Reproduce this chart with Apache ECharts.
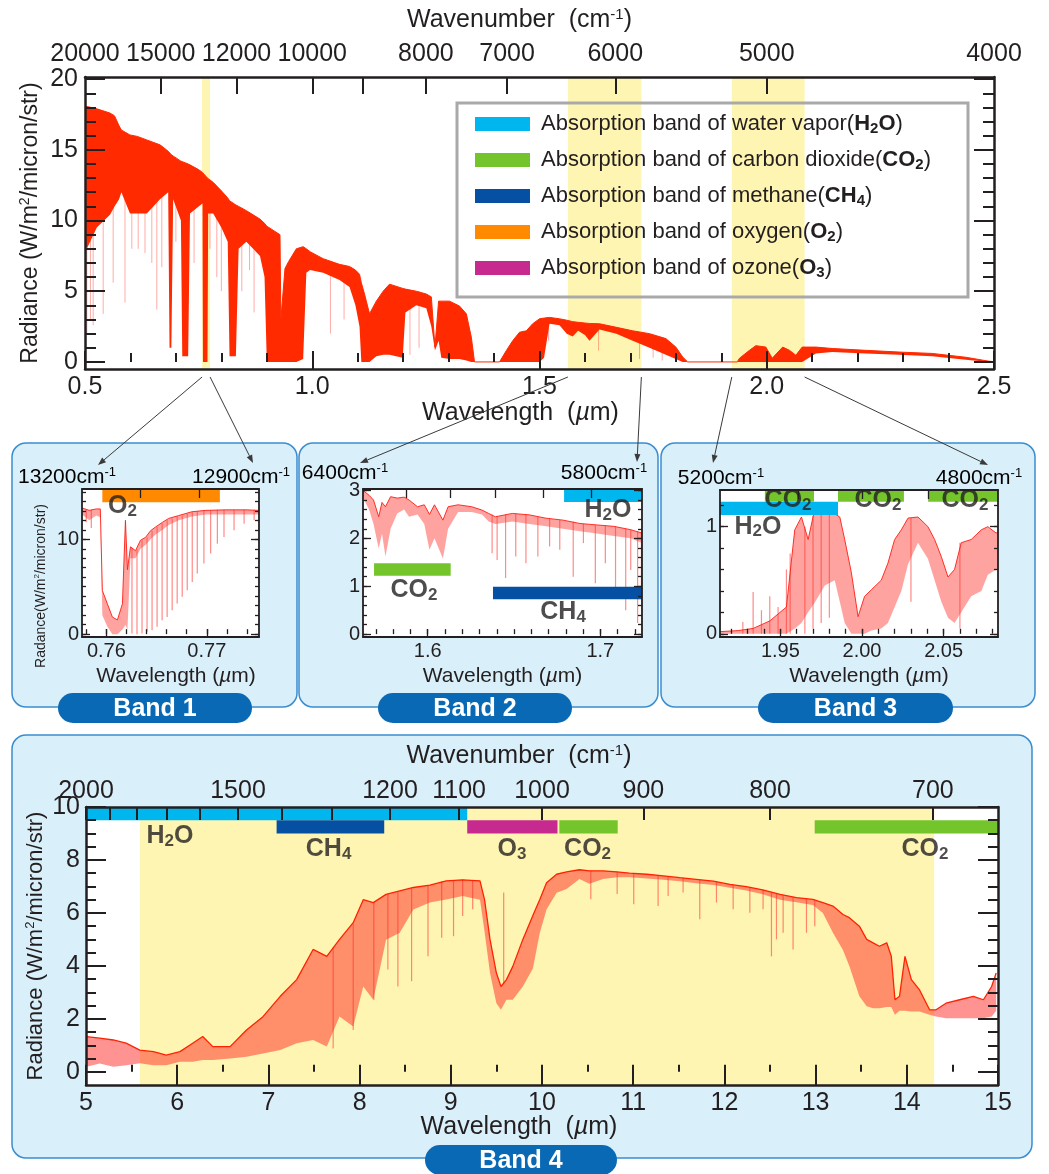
<!DOCTYPE html>
<html>
<head>
<meta charset="utf-8">
<title>Radiance spectrum</title>
<script src="https://cdn.jsdelivr.net/npm/echarts@6.0.0/dist/echarts.min.js"></script>
<style>
  html, body { margin: 0; padding: 0; background: #fff; }
  #chart { width: 1049px; height: 1174px; }
</style>
</head>
<body>
<div id="chart"></div>
<script>
// ---------- values ----------
// overview spectrum 0.5 - 2.5 um: upper edge and lower edge of the dense red band
const mainWl = [0.500,0.504,0.526,0.555,0.565,0.575,0.580,0.599,0.615,0.636,
  0.665,0.683,0.686,0.690,0.694,0.711,0.714,0.727,0.731,0.750,
  0.7585,0.7595,0.7695,0.771,0.782,0.800,0.814,0.818,0.832,0.838,
  0.855,0.870,0.885,0.895,0.900,0.929,0.931,0.940,0.948,0.965,
  0.980,0.987,0.995,1.024,1.060,1.082,1.095,1.104,1.108,1.115,
  1.126,1.141,1.156,1.170,1.199,1.205,1.229,1.251,1.262,1.270,
  1.278,1.284,1.302,1.324,1.339,1.350,1.357,1.412,1.427,1.441,
  1.456,1.471,1.485,1.500,1.510,1.522,1.544,1.560,1.573,1.585,
  1.600,1.610,1.632,1.669,1.705,1.742,1.778,1.800,1.815,1.826,
  1.935,1.940,1.962,1.976,1.998,2.012,2.035,2.050,2.064,2.078,
  2.108,2.144,2.218,2.291,2.364,2.438,2.489,2.500];
const mainTop = [18.1,18.0,17.9,17.6,17.4,16.7,16.4,16.05,15.95,15.7,
  15.35,14.9,14.8,14.65,14.55,14.2,14.15,14.0,13.95,13.6,
  13.4,13.35,13.0,12.95,12.7,12.1,11.6,11.4,11.1,11.0,
  10.7,10.4,10.1,9.8,9.6,9.0,3.0,6.6,7.1,8.0,
  8.15,8.0,7.8,7.3,6.9,6.75,6.5,6.2,5.6,4.8,
  3.4,4.3,5.0,5.5,5.2,5.15,5.0,4.8,4.6,1.05,
  4.3,4.3,4.3,3.95,3.4,1.75,0,0,0.8,1.5,
  2.1,2.2,2.7,3.05,3.1,3.15,3.05,2.95,2.85,2.8,
  2.75,2.72,2.7,2.45,2.2,2.0,1.65,1.05,0.35,0,
  0,0.26,0.82,1.15,1.05,0.26,1.05,0.82,0.47,1.05,
  1.05,0.95,0.82,0.7,0.6,0.33,0.05,0.02];
const mainLow = [8.5,8.0,9.5,10.4,11.0,11.5,12.0,10.5,10.5,10.5,
  11.5,12.0,1.0,1.0,11.5,10.0,0.4,0.4,10.5,11.0,
  11.2,0,0,10.5,10.5,9.5,8.5,0.4,0.4,8.0,
  8.5,8.0,7.5,6.0,0,0,0,0,0,0,
  0.2,6.3,6.5,6.3,5.8,5.3,4.0,2.5,0,0,
  0,0.4,0.5,0.5,0.3,3.5,4.0,3.8,2.5,0.8,
  1.5,0.3,0.2,0.2,0.1,0,0,0,0,0,
  0,0,0,0,0.3,2.7,2.6,2.0,1.8,2.2,
  1.9,1.5,2.3,2.0,1.5,1.0,0.5,0.2,0,0,
  0,0,0,0,0,0,0,0,0,0,
  0.6,0.7,0.6,0.5,0.4,0.15,0,0];
// single deep lines below the dense band
const mainLineWl = [0.504,0.512,0.518,0.540,0.562,0.588,0.603,0.617,0.632,0.647,0.658,0.669,0.700,0.740,0.775,0.790,0.800,0.845,0.862,0.872,1.040,1.070,1.215,1.235,1.520,1.630,1.720,1.750,1.770,2.200,2.300];
const mainLineTop = [18.0,17.95,17.9,17.7,17.5,16.2,16.0,15.9,15.7,15.5,15.4,15.3,14.45,13.8,12.85,12.4,12.1,10.9,10.6,10.3,7.1,6.8,5.1,5.0,3.15,2.7,2.1,1.9,1.7,0.85,0.7];
const mainLineLow = [2.0,3.0,2.6,3.4,5.6,4.2,8.0,8.0,7.7,7.0,3.7,6.7,8.5,7.0,8.0,6.0,5.0,5.0,6.5,3.5,2.0,3.0,0.5,1.0,1.5,0.8,0.2,0.3,0.1,0.1,0.1];

// Band 1 (O2 A band)
const b1Wl = [0.75758,0.7583,0.7590,0.7594,0.7596,0.7601,0.7606,0.7611,0.7616,0.7619,0.7621,0.7624,0.7629,0.7634,0.7639,0.7644,0.7649,0.7656,0.7662,0.7672,0.7685,0.7699,0.7719,0.7739,0.7752];
const b1Top = [13.3,13.05,13.2,13.2,4.6,3.2,1.8,1.5,3.2,12.0,6.8,9.2,8.8,9.9,10.2,10.9,11.3,11.8,12.2,12.5,12.9,13.05,13.1,13.1,13.05];
const b1Low = [12.6,12.0,12.5,12.3,2.0,0.8,0,0,0.5,1.0,0.5,8.0,8.0,9.0,9.4,10.0,10.5,11.0,11.5,12.0,12.4,12.6,12.6,12.6,12.6];
const b1LineWl = [0.7580,0.7585,0.76255,0.76305,0.76355,0.76405,0.76455,0.76505,0.76555,0.76605,0.76655,0.76705,0.76755,0.76805,0.76855,0.76905,0.76971,0.77038,0.77105,0.77171,0.77271,0.77371,0.77471];
const b1LineTop = [13.1,13.1,9.1,8.9,9.9,10.2,10.9,11.3,11.7,12.0,12.2,12.4,12.5,12.7,12.85,12.95,13.05,13.05,13.1,13.1,13.1,13.1,13.1];
const b1LineLow = [11.8,11.2,0.07,0,0.07,0.25,0.42,0.77,1.47,1.82,2.53,3.23,3.93,4.63,5.51,6.39,7.44,8.49,9.54,10.25,10.95,11.65,12.0];

// Band 2
const b2Wl = [1.5625,1.5660,1.5686,1.5716,1.5735,1.5755,1.5785,1.5823,1.5863,1.5892,1.5941,1.5980,1.6010,1.6039,1.6088,1.6118,1.6176,1.6255,1.6314,1.6353,1.6392,1.6490,1.6588,1.6686,1.6784,1.6882,1.6980,1.7078,1.7176,1.7241];
const b2Top = [3.0,2.9,2.8,2.45,2.75,2.66,2.87,2.84,2.86,2.80,2.66,2.70,2.50,2.70,2.38,2.66,2.70,2.66,2.59,2.52,2.45,2.52,2.49,2.42,2.38,2.31,2.28,2.25,2.18,2.11];
const b2Low = [2.85,2.6,2.3,1.79,2.1,1.62,2.2,2.52,2.6,2.45,2.5,2.3,1.76,2.0,1.58,2.2,2.55,2.55,2.5,2.35,2.3,2.35,2.3,2.25,2.2,2.15,2.1,2.05,2.0,1.9];
const b2LineWl = [1.6373,1.6402,1.6451,1.6510,1.6569,1.6638,1.6706,1.6765,1.6843,1.6902,1.6971,1.7029,1.7088,1.7147,1.7176,1.7216,1.7238];
const b2LineTop = [2.50,2.45,2.50,2.52,2.50,2.45,2.42,2.38,2.35,2.30,2.28,2.27,2.25,2.20,2.18,2.15,2.12];
const b2LineLow = [1.69,1.55,1.17,1.62,1.48,1.62,1.83,1.76,1.20,1.90,1.06,1.48,0.85,0.50,1.34,0.23,0.78];

// Band 3
const b3Wl = [1.9130,1.9140,1.9242,1.9333,1.9435,1.9537,1.9588,1.9629,1.9670,1.9710,1.9772,1.9833,1.9864,1.9894,1.9935,1.9976,2.0016,2.0057,2.0118,2.0159,2.0200,2.0241,2.0282,2.0343,2.0404,2.0445,2.0486,2.0527,2.0567,2.0608,2.0669,2.0731,2.0771,2.0822,2.0833];
const b3Top = [0.02,0.02,0.03,0.05,0.12,0.25,0.97,1.09,0.88,1.16,1.16,1.12,1.09,0.88,0.57,0.16,0.35,0.41,0.50,0.66,0.88,0.97,1.08,1.09,1.00,0.88,0.72,0.53,0.60,0.85,0.88,0.97,1.00,0.94,0.95];
const b3Low = [0,0,0,0,0,0,0.05,0.10,0.20,0.29,0.45,0.50,0.30,0.10,0,0,0,0.03,0.05,0.10,0.25,0.40,0.65,0.85,0.70,0.50,0.30,0.15,0.10,0.20,0.35,0.40,0.55,0.60,0.60];
const b3LineWl = [1.9270,1.9333,1.9384,1.9435,1.9486,1.9537,1.9560,1.9650,1.9700,1.9750,1.9800,2.0300,2.0600];
const b3LineTop = [0.11,0.39,0.22,0.35,0.25,0.60,0.75,1.00,1.10,1.12,1.15,1.08,0.85];
const b3LineLow = [0,0,0,0,0,0,0,0,0.05,0.10,0.15,0.30,0.05];

// Band 4 (thermal infrared)
const b4Wl = [5.005,5.15,5.30,5.44,5.59,5.74,5.88,6.03,6.17,6.28,
  6.39,6.58,6.76,6.94,7.13,7.31,7.49,7.64,7.78,7.93,
  8.04,8.15,8.29,8.44,8.59,8.77,8.95,9.13,9.32,9.37,
  9.43,9.50,9.55,9.61,9.68,9.79,9.90,9.976,10.05,10.16,
  10.27,10.41,10.52,10.67,10.82,10.96,11.15,11.33,11.51,11.69,
  11.88,12.06,12.24,12.42,12.61,12.79,12.97,13.08,13.19,13.30,
  13.37,13.48,13.56,13.63,13.70,13.78,13.83,13.87,13.92,13.98,
  14.05,14.14,14.25,14.32,14.43,14.58,14.73,14.84,14.93,14.98];
const b4Top = [1.33,1.27,1.20,1.08,0.82,0.76,0.63,0.76,1.08,1.33,
  0.95,0.95,1.58,2.08,2.85,3.48,4.62,4.36,5.00,5.63,
  6.50,6.39,6.70,6.83,6.96,7.05,7.21,7.25,7.21,6.50,
  5.00,3.73,3.22,3.48,3.98,5.00,5.90,6.51,7.14,7.46,
  7.55,7.63,7.59,7.59,7.55,7.50,7.46,7.40,7.33,7.27,
  7.20,7.08,6.99,6.87,6.70,6.58,6.51,6.39,6.26,5.94,
  5.82,5.50,5.00,4.87,4.74,4.87,4.36,2.72,2.85,4.36,
  3.48,3.09,2.34,2.34,2.59,2.72,2.85,2.72,3.22,3.73];
const b4Low = [0.19,0.31,0.19,0.25,0.32,0.25,0.25,0.38,0.38,0.44,
  0.44,0.50,0.57,0.69,0.82,1.08,1.20,0.95,2.09,1.71,
  3.22,2.72,4.99,5.25,6.13,6.39,6.51,6.64,6.50,5.30,
  3.73,2.59,2.34,2.72,2.72,3.22,3.90,5.25,6.13,6.76,
  6.90,7.28,7.10,7.28,7.35,7.35,7.30,7.25,7.20,7.12,
  7.05,6.95,6.85,6.70,6.50,6.40,6.30,6.00,5.25,4.60,
  3.99,2.85,2.47,2.40,2.40,2.45,2.45,2.15,2.30,2.30,
  2.28,2.28,2.15,2.09,2.02,2.02,2.02,2.02,2.09,2.30];
const b4LineWl = [7.71,7.93,8.156,8.31,8.42,8.57,8.75,8.90,9.03,9.13,9.24,9.58,10.535,10.824,11.006,11.273,11.383,11.547,11.73,11.913,12.096,12.279,12.424,12.516,12.571,12.644,12.753,12.9,12.991];
const b4LineTop = [4.7,5.6,6.4,6.7,6.8,6.95,7.05,7.2,7.22,7.25,7.23,6.77,7.6,7.55,7.5,7.42,7.38,7.32,7.26,7.19,7.07,6.97,6.87,6.78,6.72,6.68,6.6,6.54,6.5];
const b4LineLow = [0.88,1.58,2.72,3.86,3.22,3.42,4.36,5.06,5.12,5.88,6.14,3.3,6.52,6.71,6.33,6.26,6.64,6.77,5.76,6.39,6.14,6.01,6.14,4.36,5.0,5.25,4.62,5.25,5.5];

// zoomed bands, wavenumber limits (cm-1), and the band-4 window (um)
const zoomBands = [[13200, 12900], [6400, 5800], [5200, 4800]];
const band4Window = [5.59, 14.3];

// absorption bars: gas, start and end wavelength (um)
const band1Gas = ['O2'], band1From = [0.7596], band1To = [0.7713];
const band2Gas = ['H2O', 'CO2', 'CH4'], band2From = [1.679, 1.5689, 1.6378], band2To = [1.7241, 1.6133, 1.7241];
const band3Gas = ['H2O', 'CO2', 'CO2', 'CO2'], band3From = [1.913, 1.9405, 1.9853, 2.0405], band3To = [1.9853, 1.9706, 2.0257, 2.0833];
const band4Gas = ['H2O', 'CH4', 'O3', 'CO2', 'CO2'], band4From = [5.0, 7.09, 9.18, 10.19, 12.99], band4To = [9.18, 8.27, 10.17, 10.83, 15.0];
const legendGases = ['H2O', 'CO2', 'CH4', 'O2', 'O3'];

// tick labels
const mainWlLabels = [0.5, 1.0, 1.5, 2.0, 2.5];
const mainRadLabels = [0, 5, 10, 15, 20];
const mainWnLabels = [20000, 15000, 12000, 10000, 8000, 7000, 6000, 5000, 4000];
const mainWnTicks = [15000, 12000, 10000, 9000, 8000, 7000, 6000, 5000];
const b1WlLabels = [0.76, 0.77], b1RadLabels = [0, 10], b1WnTicks = [13100, 13000];
const b2WlLabels = [1.6, 1.7], b2RadLabels = [0, 1, 2, 3], b2WnTicks = [6300, 6200, 6100, 6000, 5900];
const b3WlLabels = [1.95, 2.00, 2.05], b3RadLabels = [0, 1], b3WnTicks = [5100, 5000, 4900];
const b4WlLabels = [5, 6, 7, 8, 9, 10, 11, 12, 13, 14, 15];
const b4RadLabels = [0, 2, 4, 6, 8, 10];
const b4WnLabels = [2000, 1500, 1200, 1100, 1000, 900, 800, 700];
const b4WnTicks = [2000, 1900, 1800, 1700, 1600, 1500, 1400, 1300, 1200, 1100, 1000, 900, 800, 700];

// ---------- styling ----------
const SANS = "'Liberation Sans', Arial, Helvetica, sans-serif";
const INK = '#231f20';
const YELLOW = '#fff5b2';
const GAS_COLOR = { H2O: '#00b6ee', CO2: '#73c52b', CH4: '#0550a3', O2: '#ff8a00', O3: '#c62a8f' };
const GAS_NAME = { H2O: 'water vapor', CO2: 'carbon dioxide', CH4: 'methane', O2: 'oxygen', O3: 'ozone' };

function range(a, b, step) {
  const out = [];
  for (let v = a; v <= b + step * 1e-6; v += step) out.push(Math.round(v * 1e6) / 1e6);
  return out;
}
function richSet(size, fam) {
  return {
    t: { fontSize: size, fontFamily: fam, color: INK, lineHeight: size + 2 },
    i: { fontSize: size, fontFamily: fam, fontStyle: 'italic', color: INK, lineHeight: size + 2 },
    sup: { fontSize: Math.round(size * 0.6), fontFamily: fam, color: INK, verticalAlign: 'top', lineHeight: Math.round(size * 0.5) },
    b: { fontSize: size, fontFamily: SANS, fontWeight: 'bold', color: INK, lineHeight: size + 2 },
    bs: { fontSize: Math.round(size * 0.68), fontFamily: SANS, fontWeight: 'bold', color: INK, verticalAlign: 'bottom', lineHeight: Math.round(size * 0.42) }
  };
}
// 'H2O' -> bold letters with subscript digits
function formula(g) {
  return g.replace(/([A-Z][a-z]?)|(\d)/g, (m, el, d) => el ? '{b|' + el + '}' : '{bs|' + d + '}');
}

const grids = [], xAxes = [], yAxes = [], series = [];

function addPanel(c) {
  const gi = grids.length;
  grids.push({ left: c.left, top: c.top, width: c.width, height: c.height, show: true, backgroundColor: '#fff', borderWidth: 0 });
  const tick = { color: INK, width: c.tw };
  const onLine = { show: true, onZero: false, lineStyle: { color: INK, width: c.lw } };
  const label = { fontSize: c.fs, fontFamily: SANS, color: INK };
  const base = () => ({ gridIndex: gi, type: 'value', z: 6, splitLine: { show: false }, nameMoveOverlap: false });
  const xi = xAxes.length, yi = yAxes.length;
  const nameRich = richSet(c.nameFs, SANS);

  xAxes.push(Object.assign(base(), {
    min: c.xMin, max: c.xMax, position: 'bottom', axisLine: onLine,
    axisTick: { inside: true, length: c.xMaj, lineStyle: tick, customValues: c.xLabels },
    axisLabel: Object.assign({ customValues: c.xLabels, formatter: c.xFmt, margin: c.xMargin }, label),
    name: c.xName, nameLocation: 'middle', nameGap: c.xNameGap,
    nameTextStyle: { rich: nameRich, padding: c.xNamePad || 0 }
  }));
  xAxes.push(Object.assign(base(), {
    min: c.xMin, max: c.xMax, position: 'bottom', axisLine: { show: false },
    axisTick: { inside: true, length: c.xMinLen, lineStyle: tick, customValues: c.xMinor },
    axisLabel: { show: false }
  }));
  const wnPos = c.wnTicks.map(w => 10000 / w);
  xAxes.push(Object.assign(base(), {
    min: c.xMin, max: c.xMax, position: 'top', axisLine: onLine,
    axisTick: { inside: true, length: c.topLen, lineStyle: tick, customValues: wnPos },
    axisLabel: c.wnLabels ? Object.assign({
      customValues: c.wnLabels.map(w => 10000 / w),
      formatter: v => String(Math.round(10000 / v)), margin: c.topMargin
    }, label) : { show: false },
    name: c.topName || '', nameLocation: 'middle', nameGap: c.topNameGap,
    nameTextStyle: { rich: nameRich, padding: c.topNamePad || 0 }
  }));

  yAxes.push(Object.assign(base(), {
    min: c.yMin, max: c.yMax, position: 'left', axisLine: onLine,
    axisTick: { inside: true, length: c.yMaj, lineStyle: tick, customValues: c.yLabels },
    axisLabel: Object.assign({ customValues: c.yLabels, margin: c.yMargin }, label),
    name: c.yName || '', nameLocation: 'middle', nameGap: c.yNameGap, nameRotate: 90,
    nameTextStyle: { rich: c.yNameRich || richSet(c.yNameFs || c.nameFs, SANS), padding: c.yNamePad || 0 }
  }));
  yAxes.push(Object.assign(base(), {
    min: c.yMin, max: c.yMax, position: 'left', axisLine: { show: false },
    axisTick: { inside: true, length: c.yMinLen, lineStyle: tick, customValues: c.yMinor },
    axisLabel: { show: false }
  }));
  yAxes.push(Object.assign(base(), {
    min: c.yMin, max: c.yMax, position: 'right', axisLine: onLine,
    axisTick: { inside: true, length: c.yMaj, lineStyle: tick, customValues: c.yLabels },
    axisLabel: { show: false }
  }));
  yAxes.push(Object.assign(base(), {
    min: c.yMin, max: c.yMax, position: 'right', axisLine: { show: false },
    axisTick: { inside: true, length: c.yMinLen, lineStyle: tick, customValues: c.yMinor },
    axisLabel: { show: false }
  }));
  return { gi: gi, xi: xi, yi: yi };
}

function windowArea(p, ranges) {
  series.push({
    type: 'line', name: 'window', xAxisIndex: p.xi, yAxisIndex: p.yi, silent: true, z: 1,
    symbol: 'none', lineStyle: { width: 0 }, data: [[ranges[0][0], 0]],
    markArea: { silent: true, itemStyle: { color: YELLOW }, data: ranges.map(r => [{ xAxis: r[0] }, { xAxis: r[1] }]) }
  });
}

function spectrum(p, wl, top, low, fill, edge, edgeWidth) {
  series.push({
    type: 'custom', name: 'spectrum', xAxisIndex: p.xi, yAxisIndex: p.yi, silent: true, z: 3, clip: true,
    encode: { x: 0, y: [1, 2] },
    data: wl.map((w, i) => [w, top[i], low[i]]),
    renderItem: (params, api) => {
      if (params.dataIndex !== 0) return null;
      const pts = wl.map((w, i) => api.coord([w, top[i]]));
      for (let i = wl.length - 1; i >= 0; i--) pts.push(api.coord([wl[i], low[i]]));
      return { type: 'polygon', shape: { points: pts }, style: { fill: fill } };
    }
  });
  if (edge) {
    series.push({
      type: 'line', name: 'spectrum-edge', xAxisIndex: p.xi, yAxisIndex: p.yi, silent: true, z: 3,
      symbol: 'none', clip: true, lineStyle: { color: edge, width: edgeWidth },
      data: wl.map((w, i) => [w, top[i]])
    });
  }
}

function absorptionLines(p, wl, top, low, color, width) {
  series.push({
    type: 'custom', name: 'lines', xAxisIndex: p.xi, yAxisIndex: p.yi, silent: true, z: 3, clip: true,
    encode: { x: 0, y: [1, 2] },
    data: wl.map((w, i) => [w, top[i], low[i]]),
    renderItem: (params, api) => {
      const a = api.coord([api.value(0), api.value(1)]);
      const b = api.coord([api.value(0), api.value(2)]);
      return { type: 'line', shape: { x1: a[0], y1: a[1], x2: b[0], y2: b[1] }, style: { stroke: color, lineWidth: width } };
    }
  });
}

function gasBars(p, gases, from, to, lanes) {
  const groups = {};
  gases.forEach((g, i) => { (groups[g] = groups[g] || []).push([from[i], to[i], lanes[g][0], lanes[g][1]]); });
  Object.keys(groups).forEach(g => {
    series.push({
      type: 'custom', name: g, xAxisIndex: p.xi, yAxisIndex: p.yi, silent: true, z: 4,
      itemStyle: { color: GAS_COLOR[g] },
      encode: { x: [0, 1], y: [2, 3] },
      data: groups[g],
      renderItem: (params, api) => {
        const a = api.coord([api.value(0), api.value(3)]);
        const b = api.coord([api.value(1), api.value(2)]);
        return { type: 'rect', shape: { x: a[0], y: a[1], width: b[0] - a[0], height: b[1] - a[1] }, style: { fill: GAS_COLOR[g] } };
      }
    });
  });
}

function gasLabels(p, labels) {
  series.push({
    type: 'scatter', name: 'gas-labels', xAxisIndex: p.xi, yAxisIndex: p.yi, silent: true, z: 5,
    symbolSize: 1, itemStyle: { color: 'rgba(0,0,0,0)' },
    data: labels.map(l => ({ name: l.gas, value: l.at })),
    label: { show: true, position: 'inside', formatter: q => formula(q.name), rich: richSet(25, SANS) }
  });
}

// ---------- panels ----------
const italicUm = '{t|Wavelength  (}{i|µ}{t|m)}';
const pMain = addPanel({
  left: 85, top: 77, width: 909, height: 292,
  xMin: 0.5, xMax: 2.5, yMin: -0.5, yMax: 20.15,
  xLabels: mainWlLabels, xFmt: v => v.toFixed(1), xMinor: range(0.5, 2.5, 0.1),
  yLabels: mainRadLabels, yMinor: range(0, 20, 1),
  wnTicks: mainWnTicks, wnLabels: mainWnLabels,
  lw: 2.5, tw: 2, fs: 25, nameFs: 25,
  xMaj: 18, xMinLen: 9, yMaj: 20, yMinLen: 11, topLen: 17,
  xMargin: 6, yMargin: 7, topMargin: 10,
  xName: italicUm, xNameGap: 31, xNamePad: [0, 38, 0, 0],
  topName: '{t|Wavenumber  (cm}{sup|-1}{t|)}', topNameGap: 43, topNamePad: [0, 40, 0, 0],
  yName: '{t|Radiance (W/m}{sup|2}{t|/micron/str)}', yNameGap: 42, yNameFs: 23
});
const insetStyle = {
  lw: 1.8, tw: 1.3, fs: 20, nameFs: 21,
  xMaj: 8, xMinLen: 5, yMaj: 8, yMinLen: 4, topLen: 9,
  xMargin: 4, yMargin: 3, xNameGap: 28, xName: '{t|Wavelength (}{i|µ}{t|m)}'
};
const pB1 = addPanel(Object.assign({}, insetStyle, {
  left: 82, top: 489, width: 177, height: 148,
  xMin: 10000 / 13200, xMax: 10000 / 12900, yMin: -0.3, yMax: 15.3,
  xLabels: b1WlLabels, xFmt: v => v.toFixed(2), xMinor: range(0.758, 0.774, 0.002),
  yLabels: b1RadLabels, yMinor: range(0, 15, 1), wnTicks: b1WnTicks,
  xNamePad: [0, 0, 0, 11],
  yName: '{t|Radance(W/m}{sup|2}{t|/micron/str)}', yNameGap: 33, yNameRich: richSet(14, SANS),
  yNamePad: [0, 46, 0, 0]
}));
const pB2 = addPanel(Object.assign({}, insetStyle, {
  left: 363, top: 489, width: 279, height: 148,
  xMin: 10000 / 6400, xMax: 10000 / 5800, yMin: -0.06, yMax: 3.03,
  xLabels: b2WlLabels, xFmt: v => v.toFixed(1), xMinor: range(1.57, 1.72, 0.01),
  yLabels: b2RadLabels, yMinor: range(0, 3, 0.2), wnTicks: b2WnTicks
}));
const pB3 = addPanel(Object.assign({}, insetStyle, {
  left: 720, top: 490, width: 278, height: 147,
  xMin: 1.913, xMax: 10000 / 4800, yMin: -0.03, yMax: 1.342,
  xLabels: b3WlLabels, xFmt: v => v.toFixed(2), xMinor: range(1.92, 2.08, 0.01),
  yLabels: b3RadLabels, yMinor: range(0, 1.2, 0.2), wnTicks: b3WnTicks,
  xNamePad: [0, 0, 0, 20]
}));
const pB4 = addPanel({
  left: 86, top: 807, width: 912, height: 278,
  xMin: 5, xMax: 15, yMin: -0.5, yMax: 10,
  xLabels: b4WlLabels, xFmt: v => String(v), xMinor: range(5, 15, 0.5),
  yLabels: b4RadLabels, yMinor: range(0, 10, 0.5),
  wnTicks: b4WnTicks, wnLabels: b4WnLabels,
  lw: 2.5, tw: 2, fs: 25, nameFs: 25,
  xMaj: 14, xMinLen: 7, yMaj: 20, yMinLen: 10, topLen: 13,
  xMargin: 6, yMargin: 6, topMargin: 3,
  xName: italicUm, xNameGap: 29, xNamePad: [0, 46, 0, 0],
  topName: '{t|Wavenumber  (cm}{sup|-1}{t|)}', topNameGap: 37, topNamePad: [0, 46, 0, 0],
  yName: '{t|Radiance (W/m}{sup|2}{t|/micron/str)}', yNameGap: 38, yNameFs: 22
});

// ---------- series ----------
windowArea(pMain, zoomBands.map(b => [10000 / b[0], 10000 / b[1]]));
absorptionLines(pMain, mainLineWl, mainLineTop, mainLineLow, 'rgba(255,70,60,0.45)', 1);
spectrum(pMain, mainWl, mainTop, mainLow, '#ff2a00', '#ff2a00', 1);

const insetFill = 'rgba(255,50,45,0.45)', insetLine = 'rgba(255,60,55,0.6)', insetEdge = 'rgba(255,30,20,0.9)';
absorptionLines(pB1, b1LineWl, b1LineTop, b1LineLow, insetLine, 1.2);
spectrum(pB1, b1Wl, b1Top, b1Low, insetFill, insetEdge, 1);
absorptionLines(pB2, b2LineWl, b2LineTop, b2LineLow, insetLine, 1.2);
spectrum(pB2, b2Wl, b2Top, b2Low, insetFill, insetEdge, 1);
absorptionLines(pB3, b3LineWl, b3LineTop, b3LineLow, insetLine, 1.2);
spectrum(pB3, b3Wl, b3Top, b3Low, insetFill, insetEdge, 1);

windowArea(pB4, [band4Window]);
absorptionLines(pB4, b4LineWl, b4LineTop, b4LineLow, insetLine, 1.2);
spectrum(pB4, b4Wl, b4Top, b4Low, 'rgba(255,40,35,0.5)', '#ff2200', 1.3);

// bar lanes (radiance extent of each coloured bar) and label anchors
gasBars(pB1, band1Gas, band1From, band1To, { O2: [13.9, 15.3] });
gasBars(pB2, band2Gas, band2From, band2To, { H2O: [2.76, 3.03], CO2: [1.22, 1.48], CH4: [0.73, 0.99] });
gasBars(pB3, band3Gas, band3From, band3To, { H2O: [1.109, 1.233], CO2: [1.233, 1.342] });
gasBars(pB4, band4Gas, band4From, band4To, { H2O: [9.5, 10], CH4: [9.0, 9.5], O3: [9.0, 9.5], CO2: [9.0, 9.5] });
gasLabels(pB1, [{ gas: 'O2', at: [0.7616, 13.5] }]);
gasLabels(pB2, [{ gas: 'H2O', at: [1.7044, 2.59] }, { gas: 'CO2', at: [1.592, 0.92] }, { gas: 'CH4', at: [1.6784, 0.46] }]);
gasLabels(pB3, [{ gas: 'H2O', at: [1.9363, 1.0] }, { gas: 'CO2', at: [1.9547, 1.25] }, { gas: 'CO2', at: [2.0098, 1.25] }, { gas: 'CO2', at: [2.0631, 1.25] }]);
gasLabels(pB4, [{ gas: 'H2O', at: [5.92, 8.9] }, { gas: 'CH4', at: [7.66, 8.4] }, { gas: 'O3', at: [9.67, 8.4] }, { gas: 'CO2', at: [10.5, 8.4] }, { gas: 'CO2', at: [14.2, 8.4] }]);

const legendRich = richSet(22, SANS);
const option = {
  animation: false,
  backgroundColor: '#fff',
  textStyle: { fontFamily: SANS },
  grid: grids, xAxis: xAxes, yAxis: yAxes, series: series,
  legend: {
    data: legendGases, orient: 'vertical', left: 475, top: 113,
    icon: 'rect', itemWidth: 55, itemHeight: 14, itemGap: 13, selectedMode: false, padding: 0,
    textStyle: { fontFamily: SANS, fontSize: 22, color: INK, rich: legendRich },
    formatter: name => '{t| Absorption band of ' + GAS_NAME[name] + '(}' + formula(name) + '{t|)}'
  }
};

const chart = echarts.init(document.getElementById('chart'), null, { renderer: 'canvas' });
chart.setOption(option);

// ---------- frames, band tags, connectors ----------
const PANELS = [[12, 443, 285, 264], [299, 443, 359, 264], [661, 443, 374, 264], [12, 735, 1020, 423]];
const PILLS = [[58, 693, 194, 30, 'Band 1'], [378, 693, 194, 30, 'Band 2'], [758, 693, 195, 30, 'Band 3'], [425, 1145, 192, 30, 'Band 4']];
const CORNERS = [[[67, 477], [241, 477]], [[345, 473], [604, 473]], [[721, 478], [979, 478]]];
const ARROW_TIPS = [[98, 465], [253, 463], [360, 463], [637, 462], [713, 463], [988, 465]];
const gfx = [];
PANELS.forEach(b => gfx.push({
  type: 'rect', z: -10, shape: { x: b[0], y: b[1], width: b[2], height: b[3], r: 14 },
  style: { fill: '#d9eff9', stroke: '#3a8dcf', lineWidth: 1.5 }
}));
PILLS.forEach(p => {
  gfx.push({ type: 'rect', z: 50, shape: { x: p[0], y: p[1], width: p[2], height: p[3], r: 15 }, style: { fill: '#0a69b5' } });
  gfx.push({
    type: 'text', z: 51, x: p[0] + p[2] / 2, y: p[1] + p[3] / 2 + 1,
    style: { text: p[4], fill: '#fff', font: 'bold 25px ' + SANS, align: 'center', verticalAlign: 'middle', textAlign: 'center', textVerticalAlign: 'middle' }
  });
});
const cornerRich = richSet(21, SANS);
zoomBands.forEach((b, i) => {
  b.forEach((wn, j) => gfx.push({
    type: 'text', z: 10, x: CORNERS[i][j][0], y: CORNERS[i][j][1],
    style: { text: '{t|' + wn + 'cm}{sup|-1}', rich: cornerRich, align: 'center', verticalAlign: 'middle', textAlign: 'center', textVerticalAlign: 'middle' }
  }));
});
gfx.push({ type: 'rect', z: 10, shape: { x: 457, y: 103, width: 511, height: 194 }, style: { fill: 'rgba(0,0,0,0)', stroke: '#a9a9a9', lineWidth: 3 } });

const edges = [];
zoomBands.forEach(b => edges.push(10000 / b[0], 10000 / b[1]));
edges.forEach((w, i) => {
  const x0 = chart.convertToPixel({ xAxisIndex: pMain.xi }, w);
  const y0 = 377;
  const x1 = ARROW_TIPS[i][0], y1 = ARROW_TIPS[i][1];
  const ang = Math.atan2(y1 - y0, x1 - x0);
  const L = 8, W = 3;
  const bx = x1 - L * Math.cos(ang), by = y1 - L * Math.sin(ang);
  gfx.push({ type: 'line', z: 20, shape: { x1: x0, y1: y0, x2: bx, y2: by }, style: { stroke: '#3a3a3a', lineWidth: 1 } });
  gfx.push({
    type: 'polygon', z: 20,
    shape: { points: [[x1, y1], [bx + W * Math.sin(ang), by - W * Math.cos(ang)], [bx - W * Math.sin(ang), by + W * Math.cos(ang)]] },
    style: { fill: '#3a3a3a' }
  });
});
chart.setOption({ graphic: { elements: gfx } });
</script>
</body>
</html>
